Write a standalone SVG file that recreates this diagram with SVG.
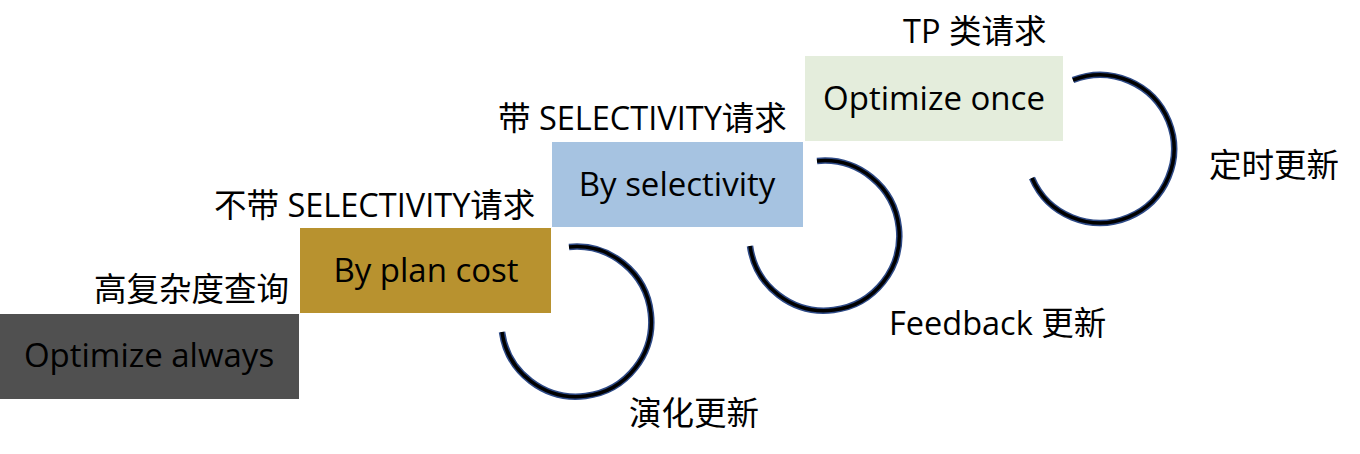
<svg xmlns="http://www.w3.org/2000/svg" width="1360" height="454" viewBox="0 0 1360 454">
<style>
.bt{font-family:"Open Sans","Noto Sans CJK SC",sans-serif;font-size:33px;fill:#000;text-anchor:middle}
.lb{font-family:"Open Sans","Noto Sans CJK SC",sans-serif;font-size:32.5px;fill:#000}
.ao{fill:none;stroke:#2E4A86;stroke-width:6.5}
.ai{fill:none;stroke:#000;stroke-width:3.5}
</style>
<rect width="1360" height="454" fill="#fff"/>
<g id="n-always"><rect x="0" y="314" width="299" height="85" fill="#505050"/><text class="bt" x="149" y="367">Optimize always</text></g>
<g id="n-plancost"><rect x="300" y="228" width="251" height="85" fill="#B8922F"/><text class="bt" x="426" y="282">By plan cost</text></g>
<g id="n-selectivity"><rect x="552" y="142" width="251" height="85" fill="#A6C3E1"/><text class="bt" x="677" y="196">By selectivity</text></g>
<g id="n-once"><rect x="805" y="56" width="258" height="85" fill="#E4EDDC"/><text class="bt" x="934" y="110">Optimize once</text></g>
<g id="labels">
<text class="lb" x="94" y="301">高复杂度查询</text>
<text class="lb" x="214" y="217">不带 SELECTIVITY请求</text>
<text class="lb" x="498" y="130">带 SELECTIVITY请求</text>
<text class="lb" x="903" y="43">TP 类请求</text>
<text class="lb" x="1209" y="177">定时更新</text>
<text class="lb" x="889" y="335">Feedback 更新</text>
<text class="lb" x="629" y="425">演化更新</text>
</g>
<g id="connectors">
<path class="ao" d="M569 247 A75 75 0 1 1 502 332"/>
<path class="ai" d="M569 247 A75 75 0 1 1 502 332"/>
<path class="ao" d="M817 161 A75 75 0 1 1 750 246"/>
<path class="ai" d="M817 161 A75 75 0 1 1 750 246"/>
<path class="ao" d="M1073 80 A74 74 0 1 1 1032 178"/>
<path class="ai" d="M1073 80 A74 74 0 1 1 1032 178"/>
</g>
</svg>
